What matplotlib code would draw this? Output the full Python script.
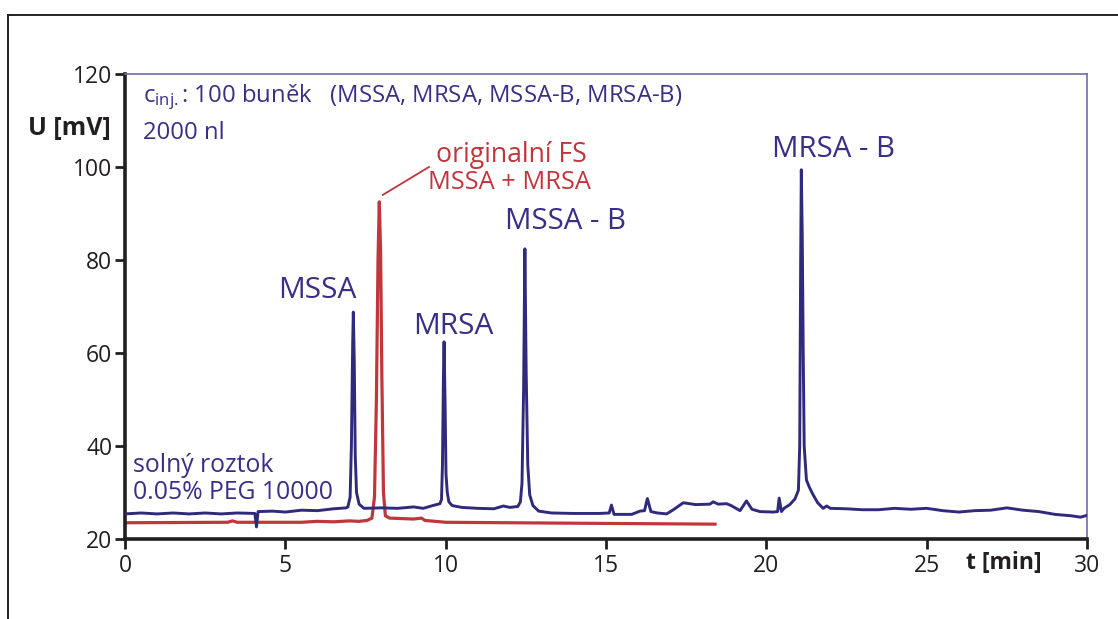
import matplotlib
matplotlib.use('Agg')
import matplotlib.pyplot as plt
from matplotlib.lines import Line2D

plt.rcParams['font.family'] = ['Open Sans', 'DejaVu Sans']
plt.rcParams['mathtext.fontset'] = 'custom'
plt.rcParams['mathtext.rm'] = 'Open Sans'
plt.rcParams['mathtext.it'] = 'Open Sans'

BLUE = '#2f2a7c'
BLUE_TXT = '#3a2f86'
RED = '#c0363c'
DARK = '#231f20'

# blue trace: salt solution, 100 cells (time in min, U in mV)
blue_t = [0.0, 0.5, 1.0, 1.5, 2.0, 2.5, 3.0, 3.5, 4.05, 4.1, 4.15, 4.6, 5.0, 5.5, 6.0, 6.5,
          6.9, 6.95, 7.02, 7.06, 7.10, 7.12, 7.15, 7.18, 7.22, 7.3, 7.45, 8.0, 8.5, 9.0, 9.3,
          9.6, 9.82, 9.87, 9.9, 9.93, 9.95, 9.98, 10.01, 10.05, 10.1, 10.2, 10.5, 11.0, 11.5,
          11.8, 12.0, 12.25, 12.33, 12.38, 12.43, 12.47, 12.51, 12.56, 12.62, 12.72, 12.9,
          13.3, 14.0, 14.8, 15.1, 15.17, 15.25, 15.8, 16.06, 16.2, 16.29, 16.4, 16.6, 16.89,
          17.1, 17.41, 17.8, 18.24, 18.34, 18.5, 18.76, 18.9, 19.18, 19.38, 19.55, 19.8,
          20.22, 20.35, 20.4, 20.47, 20.55, 20.73, 20.89, 21.0, 21.04, 21.07, 21.09, 21.12,
          21.15, 21.18, 21.25, 21.35, 21.46, 21.6, 21.77, 21.88, 22.0, 22.5, 23.0, 23.5,
          24.0, 24.5, 25.0, 25.5, 26.0, 26.5, 27.0, 27.5, 28.0, 28.5, 29.0, 29.5, 29.8, 30.0]
blue_u = [25.4, 25.6, 25.4, 25.6, 25.4, 25.6, 25.4, 25.6, 25.5, 22.6, 25.9, 26.0, 25.8, 26.2,
          26.1, 26.5, 26.7, 26.9, 29.0, 40.0, 62.0, 68.8, 58.0, 38.0, 30.0, 27.5, 26.6, 26.7,
          26.6, 26.9, 26.6, 27.2, 27.6, 28.5, 36.0, 55.0, 62.4, 50.0, 34.0, 30.0, 28.0, 27.2,
          26.8, 26.6, 26.5, 27.1, 26.8, 27.0, 28.0, 32.0, 52.0, 82.4, 56.0, 36.0, 29.5, 27.2,
          26.0, 25.6, 25.5, 25.5, 25.6, 27.3, 25.3, 25.3, 26.0, 26.1, 28.7, 25.9, 25.6, 25.4,
          26.3, 27.8, 27.4, 27.5, 28.0, 27.5, 27.6, 27.2, 26.1, 28.2, 26.4, 25.9, 25.8, 25.9,
          28.8, 25.9, 26.6, 27.4, 28.6, 30.5, 40.0, 80.0, 99.4, 85.0, 60.0, 40.0, 32.7, 31.0,
          29.5, 27.8, 26.6, 27.1, 26.6, 26.5, 26.3, 26.3, 26.6, 26.4, 26.6, 26.1, 25.8, 26.1,
          26.2, 26.7, 26.2, 25.9, 25.3, 25.0, 24.7, 25.1]

# red trace: original FS, MSSA + MRSA
red_t = [0.0, 3.2, 3.35, 3.5, 5.5, 6.0, 6.5, 7.0, 7.3, 7.55, 7.7, 7.78, 7.84, 7.89, 7.93,
         7.97, 8.01, 8.06, 8.12, 8.25, 9.0, 9.25, 9.35, 10.0, 14.0, 18.4]
red_u = [23.5, 23.6, 23.9, 23.6, 23.6, 23.8, 23.7, 23.9, 23.8, 24.0, 24.5, 29.0, 50.0, 80.0,
         92.5, 82.0, 55.0, 30.0, 25.0, 24.5, 24.3, 24.5, 24.0, 23.6, 23.4, 23.2]

x_ticks = [0, 5, 10, 15, 20, 25, 30]
y_ticks = [20, 40, 60, 80, 100, 120]

fig = plt.figure(figsize=(11.18, 6.19), dpi=100)
ax = fig.add_axes([0.1118, 0.1292, 0.8605, 0.7513])

ax.plot(blue_t, blue_u, color=BLUE, lw=2.1, solid_joinstyle='round', zorder=3)
ax.plot(red_t, red_u, color=RED, lw=2.3, solid_joinstyle='round', zorder=2)

ax.set_xlim(0, 30)
ax.set_ylim(20, 120)
ax.set_xticks(x_ticks)
ax.set_yticks(y_ticks)
ax.tick_params(direction='out', length=7, width=2, color=DARK, labelsize=16.5,
               labelcolor=DARK, pad=2)
ax.tick_params(axis='x', pad=4)
for s in ['left', 'bottom']:
    ax.spines[s].set_linewidth(2.6)
    ax.spines[s].set_color(DARK)
for s in ['top', 'right']:
    ax.spines[s].set_linewidth(1.2)
    ax.spines[s].set_color('#6f6daa')

# axis titles
fig.text(28 / 1118, 1 - 128 / 619, 'U [mV]', fontsize=18, fontweight='bold', color=DARK,
         va='center', ha='left')
fig.text(966 / 1118, 1 - 563 / 619, 't [min]', fontsize=16.5, fontweight='bold', color=DARK,
         va='center', ha='left')

# info text
ax.text(0.56, 115.0, r'c$_{\mathrm{inj.}}$: 100 buněk   (MSSA, MRSA, MSSA-B, MRSA-B)',
        fontsize=17.2, color=BLUE_TXT, va='center', ha='left')
ax.text(0.56, 107.3, '2000 nl', fontsize=17.2, color=BLUE_TXT, va='center', ha='left')
ax.text(0.25, 35.9, 'solný roztok', fontsize=17.8, color=BLUE_TXT, va='center', ha='left')
ax.text(0.25, 30.1, '0.05% PEG 10000', fontsize=17.8, color=BLUE_TXT, va='center', ha='left')

# peak labels
ax.text(5.99, 73.5, 'MSSA', fontsize=21.5, color=BLUE_TXT, ha='center', va='center')
ax.text(10.23, 65.8, 'MRSA', fontsize=21.5, color=BLUE_TXT, ha='center', va='center')
ax.text(13.75, 88.2, 'MSSA - B', fontsize=21.2, color=BLUE_TXT, ha='center', va='center')
ax.text(22.1, 103.7, 'MRSA - B', fontsize=21.2, color=BLUE_TXT, ha='center', va='center')

ax.text(12.05, 102.6, 'originalní FS', fontsize=19.2, color=RED, ha='center', va='center')
ax.text(12.0, 96.6, 'MSSA + MRSA', fontsize=18.3, color=RED, ha='center', va='center')
ax.plot([8.04, 9.48], [94.0, 100.0], color=RED, lw=1.3)

# outer frame
fig.add_artist(Line2D([8 / 1118, 1.0], [1 - 15 / 619, 1 - 15 / 619], color='#222222', lw=1.4,
                      transform=fig.transFigure))
fig.add_artist(Line2D([8 / 1118, 8 / 1118], [0.0, 1 - 15 / 619], color='#222222', lw=1.4,
                      transform=fig.transFigure))

fig.savefig('out.png', dpi=100)
